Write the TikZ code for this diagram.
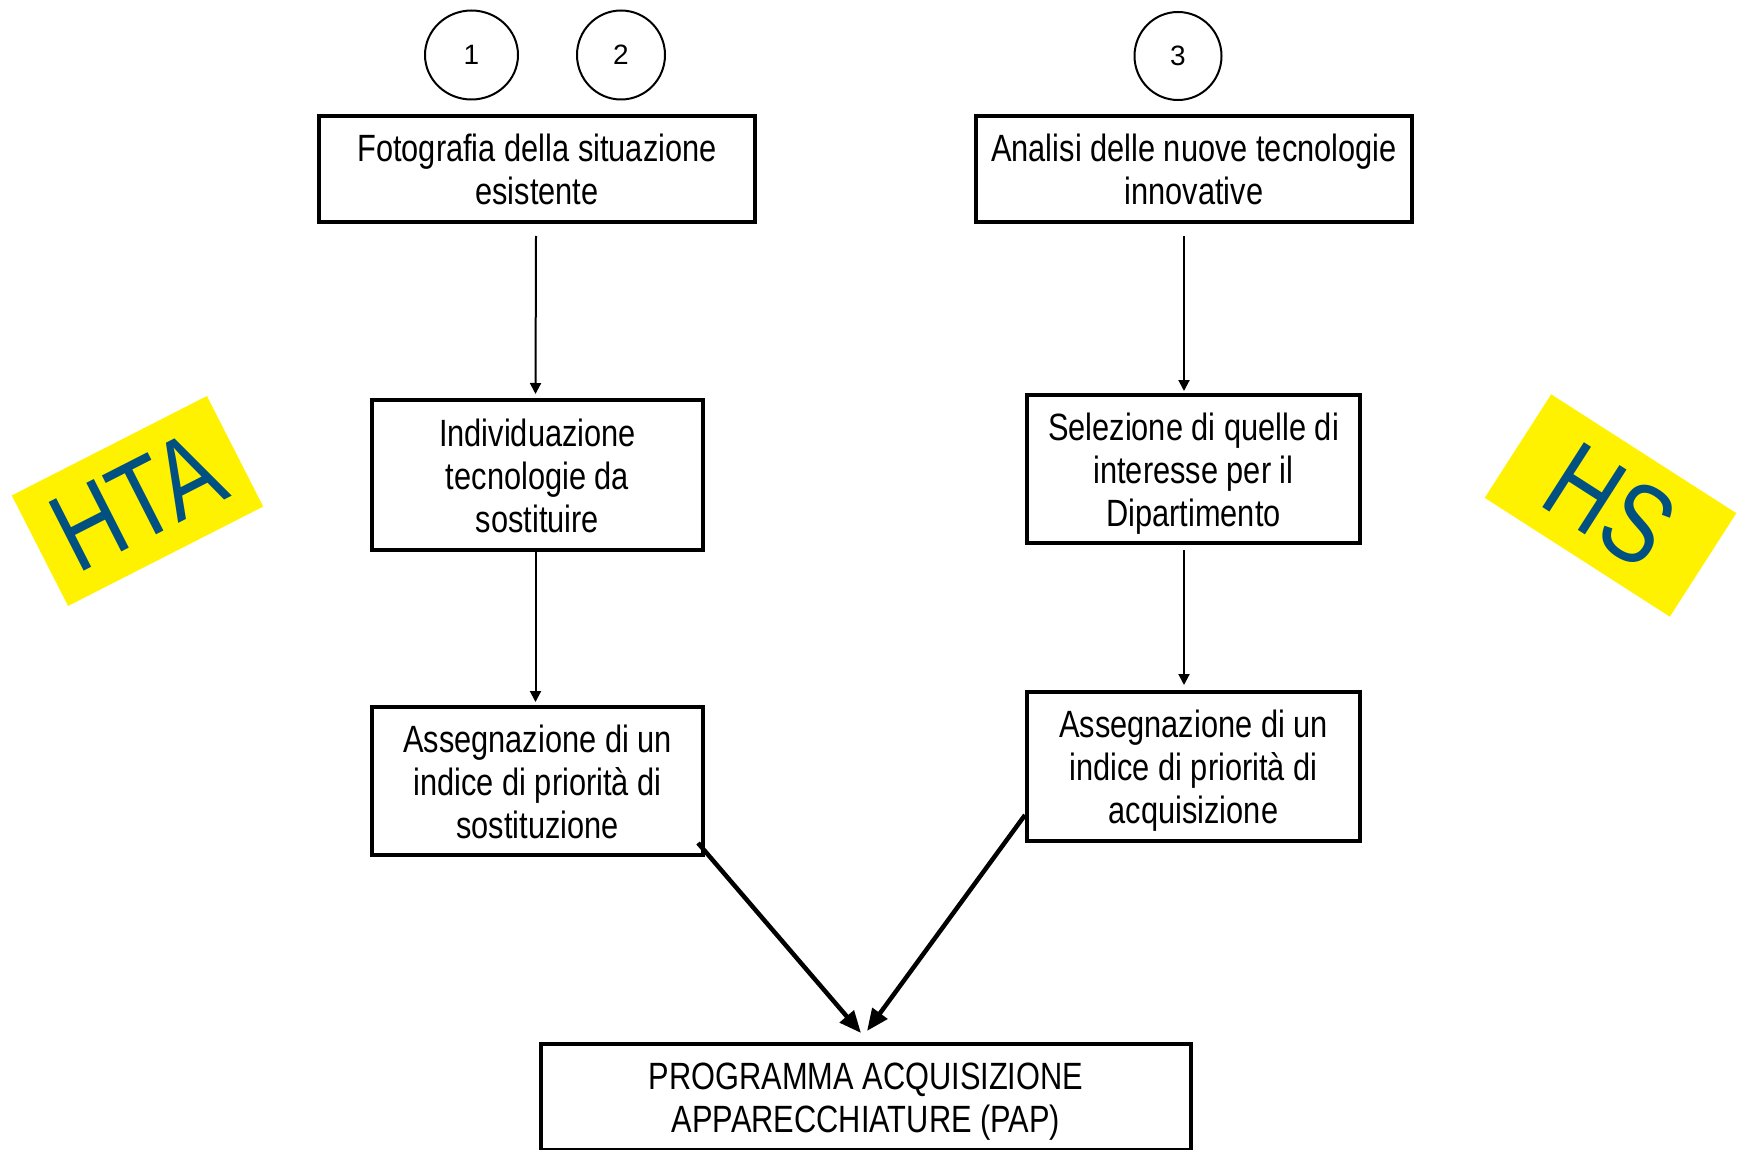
\documentclass[tikz,border=0pt]{standalone}
\usepackage{fontspec}
\setmainfont{Liberation Sans}
\newfontfamily\narrowfont{Liberation Sans}[FakeStretch=0.81]
\usetikzlibrary{arrows.meta,calc,shapes.geometric}
\definecolor{labelblue}{RGB}{0,80,130}
\newcommand\topstrut{\rule{0pt}{36.5pt}}
\newcommand\botstrut{\rule[-8pt]{0pt}{8pt}}
\begin{document}
\begin{tikzpicture}[x=1pt,y=-1pt,
  box/.style={draw,line width=4pt,rectangle,align=center,inner sep=0pt,
    font=\narrowfont\fontsize{38}{43}\selectfont},
  num/.style={draw,line width=2pt,ellipse,inner sep=0pt,
    font=\fontsize{28}{32}\selectfont},
  thinarrow/.style={line width=2pt,-{Triangle[length=11pt,width=11pt]}},
  thickarrow/.style={line width=4.5pt,-{Triangle[length=22pt,width=18pt]}},
  tag/.style={fill=yellow,text=labelblue,inner sep=0pt,
    font=\narrowfont\fontsize{112}{120}\selectfont}]
\useasboundingbox (0,0) rectangle (1739,1150);
\fill[white] (0,0) rectangle (1739,1150);

% numbered circles
\node[num,minimum width=93pt,minimum height=89pt] (n1) at (471.5,55) {1};
\node[num,minimum width=88pt,minimum height=89pt] (n2) at (621,55) {2};
\node[num,minimum width=87pt,minimum height=88pt] (n3) at (1178,56) {3};

% boxes
\node[box,minimum width=436pt,minimum height=106pt] (f1) at (537,169)
  {\topstrut Fotografia della situazione\\esistente\botstrut};
\node[box,minimum width=436pt,minimum height=106pt] (an) at (1194,169)
  {\topstrut Analisi delle nuove tecnologie\\innovative\botstrut};
\node[box,minimum width=331pt,minimum height=150pt] (ind) at (537.5,475)
  {\topstrut Individuazione\\tecnologie da\\sostituire\botstrut};
\node[box,minimum width=331pt,minimum height=148pt] (asl) at (537.5,781)
  {\topstrut Assegnazione di un\\indice di priorità di\\sostituzione\botstrut};
\node[box,minimum width=333pt,minimum height=148pt] (sel) at (1193.5,469)
  {\topstrut Selezione di quelle di\\interesse per il\\Dipartimento\botstrut};
\node[box,minimum width=333pt,minimum height=149pt] (asr) at (1193.5,766.5)
  {\topstrut Assegnazione di un\\indice di priorità di\\acquisizione\botstrut};
\node[box,minimum width=650pt,minimum height=106pt] (pap) at (866,1097)
  {\topstrut PROGRAMMA ACQUISIZIONE\\APPARECCHIATURE (PAP)\botstrut};

% tags
\node[tag,minimum width=219pt,minimum height=124pt,rotate=27] (hta) at (137.5,501) {HTA};
\node[tag,minimum width=220pt,minimum height=123pt,rotate=-32.7] (hs) at (1610.5,505.5) {HS};

% thin arrows
\draw[thinarrow] ($(f1.south)+(-1,12)$) -- ($(ind.north)+(-2,-4)$);
\draw[thinarrow] ($(ind.south)+(-2,-2)$) -- ($(asl.north)+(-2,-3)$);
\draw[thinarrow] ($(an.south)+(-10,12)$) -- ($(sel.north)+(-9.5,-2)$);
\draw[thinarrow] ($(sel.south)+(-9.5,5)$) -- ($(asr.north)+(-9.5,-5)$);

% thick arrows
\draw[thickarrow] ($(asl.south east)+(-7,-14)$) -- ($(pap.north)+(-5,-9)$);
\draw[thickarrow] ($(asr.south west)+(0,-28)$) -- ($(pap.north)+(1,-11)$);
\end{tikzpicture}
\end{document}
